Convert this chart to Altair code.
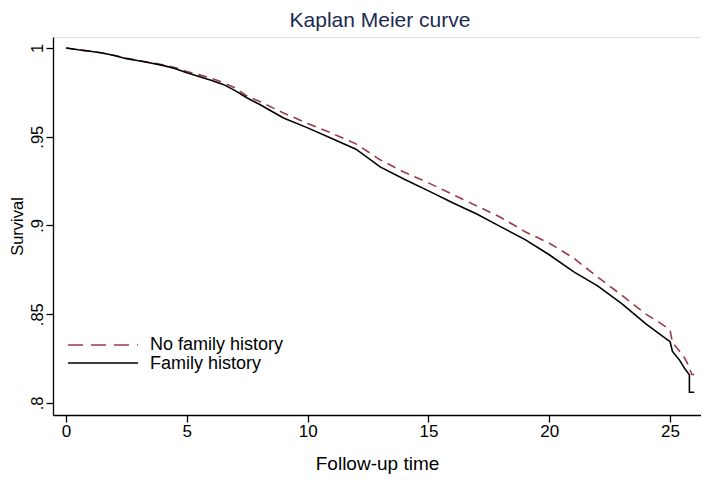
import altair as alt
import pandas as pd

# Follow-up time (years) and survival estimates
t_nofam = [0, 0.5, 1, 1.5, 2, 2.5, 3, 3.5, 4, 4.5, 5, 5.5, 6, 6.5, 7, 7.5, 8, 9, 10,
           11, 12, 13, 14, 15, 16, 17, 18, 19, 20, 21, 22, 23, 24, 24.6, 25.0, 25.1,
           25.4, 25.6, 25.75, 25.9, 26.0]
s_nofam = [1.000, 0.9990, 0.9982, 0.9972, 0.9958, 0.9942, 0.9930, 0.9918, 0.9905, 0.9890,
           0.9868, 0.9850, 0.9830, 0.9805, 0.9775, 0.9728, 0.9700, 0.9634, 0.9575,
           0.9520, 0.9460, 0.9370, 0.9300, 0.9240, 0.9175, 0.9110, 0.9045, 0.8965,
           0.8900, 0.8817, 0.8710, 0.8607, 0.8500, 0.8450, 0.8410, 0.8340, 0.8290,
           0.8254, 0.8214, 0.8160, 0.8160]

t_fam = [0, 0.5, 1, 1.5, 2, 2.5, 3, 3.5, 4, 4.5, 5, 5.5, 6, 6.5, 7, 7.5, 8, 9, 10,
         11, 12, 13, 14, 15, 16, 17, 18, 19, 20, 21, 22, 23, 24, 24.6, 25.0, 25.1,
         25.4, 25.6, 25.8, 25.8, 26.0]
s_fam = [1.000, 0.9990, 0.9982, 0.9972, 0.9958, 0.9940, 0.9928, 0.9915, 0.9902, 0.9885,
         0.9860, 0.9840, 0.9818, 0.9795, 0.9760, 0.9718, 0.9683, 0.9606, 0.9550,
         0.9490, 0.9430, 0.9330, 0.9260, 0.9195, 0.9128, 0.9065, 0.8992, 0.8920,
         0.8835, 0.8740, 0.8660, 0.8560, 0.8445, 0.8385, 0.8345, 0.8290, 0.8240,
         0.8195, 0.8158, 0.8060, 0.8060]

series_names = ["No family history", "Family history"]
series_colors = ["#9c3a48", "#000000"]

chart_title = ["Kaplan Meier curve"]

x_ticks = [0, 5, 10, 15, 20, 25]
y_ticks = [0.8, 0.85, 0.9, 0.95, 1.0]

FONT = "Liberation Sans"

df_nofam = pd.DataFrame({"time": t_nofam, "surv": s_nofam, "group": series_names[0],
                         "order": range(len(t_nofam))})
df_fam = pd.DataFrame({"time": t_fam, "surv": s_fam, "group": series_names[1],
                       "order": range(len(t_fam))})

x_scale = alt.Scale(domain=[-0.54, 26.28], nice=False, zero=False)
y_scale = alt.Scale(domain=[0.7932, 1.0062], nice=False, zero=False)

x_axis = alt.Axis(values=x_ticks, title="Follow-up time", grid=False,
                  domainColor="black", domainWidth=1.3, tickColor="black", tickWidth=1.3,
                  tickSize=7, labelFontSize=17, labelFont=FONT, labelColor="black",
                  labelPadding=1, titleFont=FONT, titleFontSize=19, titleFontWeight="normal",
                  titleColor="black", titleY=54, titleBaseline="alphabetic")
y_axis = alt.Axis(values=y_ticks, title="Survival", grid=False,
                  domainColor="black", domainWidth=1.3, tickColor="black", tickWidth=1.3,
                  tickSize=7, labelFontSize=16.5, labelFont=FONT, labelColor="black",
                  labelAngle=270, labelAlign="center", labelBaseline="alphabetic",
                  labelPadding=4,
                  labelExpr="replace(format(datum.value, '.2~f'), '0.', '.')",
                  titleFont=FONT, titleFontSize=16.5, titleFontWeight="normal",
                  titleColor="black", titleAngle=270, titleX=-31,
                  titleBaseline="alphabetic")

line_nofam = alt.Chart(df_nofam).mark_line(
    color=series_colors[0], strokeWidth=1.6, strokeDash=[9, 6]
).encode(
    x=alt.X("time:Q", scale=x_scale, axis=x_axis),
    y=alt.Y("surv:Q", scale=y_scale, axis=y_axis),
    order="order:Q",
)

line_fam = alt.Chart(df_fam).mark_line(
    color=series_colors[1], strokeWidth=1.6
).encode(
    x=alt.X("time:Q", scale=x_scale),
    y=alt.Y("surv:Q", scale=y_scale),
    order="order:Q",
)

# Legend (drawn inside the plot, bottom-left)
leg_df = pd.DataFrame({"label": series_names})
leg_rule1 = alt.Chart(leg_df.iloc[[0]]).mark_rule(
    color=series_colors[0], strokeWidth=1.6, strokeDash=[15, 8]
).encode(x=alt.value(15), x2=alt.value(85), y=alt.value(308))
leg_rule2 = alt.Chart(leg_df.iloc[[1]]).mark_rule(
    color=series_colors[1], strokeWidth=1.6
).encode(x=alt.value(15), x2=alt.value(85), y=alt.value(326))
leg_text1 = alt.Chart(leg_df.iloc[[0]]).mark_text(
    align="left", baseline="middle", font=FONT, fontSize=18, color="black"
).encode(x=alt.value(97), y=alt.value(308), text="label:N")
leg_text2 = alt.Chart(leg_df.iloc[[1]]).mark_text(
    align="left", baseline="middle", font=FONT, fontSize=18, color="black"
).encode(x=alt.value(97), y=alt.value(327), text="label:N")

# Chart title as a text mark above the plot
title_df = pd.DataFrame({"title": chart_title})
title_mark = alt.Chart(title_df).mark_text(
    align="center", baseline="alphabetic", font=FONT, fontSize=21, color="#1c2b52"
).encode(x=alt.value(327), y=alt.value(-10), text="title:N")

chart = alt.layer(
    line_nofam, line_fam, leg_rule1, leg_rule2, leg_text1, leg_text2, title_mark
).properties(
    width=648,
    height=378,
    autosize=alt.AutoSizeParams(type="none"),
    padding={"left": 45, "top": 29, "right": 0, "bottom": 59},
).configure_view(strokeWidth=0, stroke="transparent").configure(background="white")

chart.save("out.html", embed_options={"renderer": "svg", "actions": False})
